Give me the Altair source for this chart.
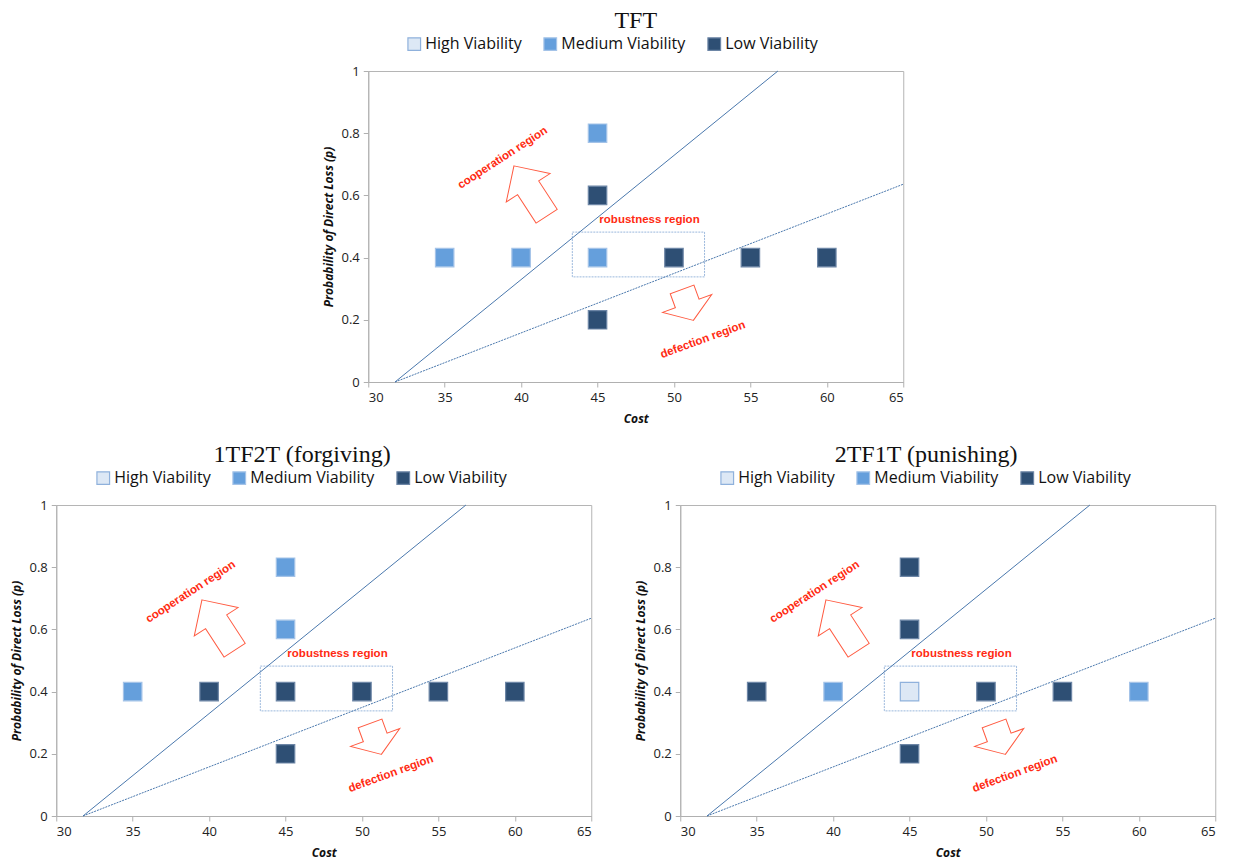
import altair as alt
import pandas as pd

# ---------------- data ----------------
cost_values = [35, 40, 45, 45, 45, 45, 50, 55, 60]
p_values = [0.4, 0.4, 0.4, 0.8, 0.6, 0.2, 0.4, 0.4, 0.4]
tft_viability = ["Medium Viability", "Medium Viability", "Medium Viability", "Medium Viability",
                 "Low Viability", "Low Viability", "Low Viability", "Low Viability", "Low Viability"]
forgiving_viability = ["Medium Viability", "Low Viability", "Low Viability", "Medium Viability",
                       "Medium Viability", "Low Viability", "Low Viability", "Low Viability", "Low Viability"]
punishing_viability = ["Low Viability", "Medium Viability", "High Viability", "Low Viability",
                       "Low Viability", "Low Viability", "Low Viability", "Low Viability", "Medium Viability"]

categories = ["High Viability", "Medium Viability", "Low Viability"]
fill_colors = ["#dde8f5", "#659fdc", "#2e4f74"]
stroke_colors = ["#8fb1dc", "#a4c3e8", "#6d86a6"]

coop_line_cost = [31.75, 56.8]
coop_line_p = [0.0, 1.0]
defect_line_cost = [31.75, 65.0]
defect_line_p = [0.0, 0.636]

box_cost = [43.35, 52.0]
box_p = [0.338, 0.482]

label_text = ["cooperation region", "robustness region", "defection region"]
label_cost = [38.8, 48.4, 51.9]
label_p = [0.72, 0.52, 0.135]
label_angle = [327, 0, 340]

arrow_cost = [40.6, 50.9]
arrow_p = [0.614, 0.248]

x_ticks = [30, 35, 40, 45, 50, 55, 60, 65]
y_ticks = [0, 0.2, 0.4, 0.6, 0.8, 1]

# ---------------- styling ----------------
W, H = 535, 311
RED = "#ff2a12"
ARROW = "#ff5a40"
LINE = "#4a78ad"
COOP_ARROW = "M0,-1L0.87,-0.13L0.42,-0.13L0.42,1L-0.42,1L-0.42,-0.13L-0.87,-0.13Z"
DEFECT_ARROW = "M0,-0.55L0.87,0.05L0.42,0.05L0.42,0.55L-0.42,0.55L-0.42,0.05L-0.87,0.05Z"

xscale = alt.Scale(domain=[30, 65], nice=False, zero=False)
yscale = alt.Scale(domain=[0, 1], nice=False)
xaxis = alt.Axis(values=x_ticks, title="Cost")
yaxis = alt.Axis(values=y_ticks, format="~g", title="Probability of Direct Loss (p)")


def panel(title, viability, legend_x, frame):
    pts = pd.DataFrame({"cost": cost_values, "p": p_values, "viability": viability})
    coop = pd.DataFrame({"cost": coop_line_cost, "p": coop_line_p})
    defect = pd.DataFrame({"cost": defect_line_cost, "p": defect_line_p})
    box = pd.DataFrame({"c1": [box_cost[0]], "c2": [box_cost[1]], "p1": [box_p[0]], "p2": [box_p[1]]})
    labels = pd.DataFrame({"cost": label_cost, "p": label_p, "text": label_text, "angle": label_angle})
    a1 = pd.DataFrame({"cost": [arrow_cost[0]], "p": [arrow_p[0]]})
    a2 = pd.DataFrame({"cost": [arrow_cost[1]], "p": [arrow_p[1]]})

    box_l = alt.Chart(box).mark_rect(fill="white", fillOpacity=0, stroke="#9bb8dc",
                                     strokeWidth=1, strokeDash=[2, 1]).encode(
        x=alt.X("c1:Q", scale=xscale, axis=xaxis), x2="c2:Q",
        y=alt.Y("p1:Q", scale=yscale, axis=yaxis), y2="p2:Q")

    coop_l = alt.Chart(coop).mark_line(color=LINE, strokeWidth=1).encode(
        x=alt.X("cost:Q", scale=xscale, axis=xaxis), y=alt.Y("p:Q", scale=yscale, axis=yaxis))
    defect_l = alt.Chart(defect).mark_line(color=LINE, strokeWidth=1, strokeDash=[2, 1]).encode(
        x=alt.X("cost:Q", scale=xscale, axis=xaxis), y=alt.Y("p:Q", scale=yscale, axis=yaxis))

    legend = alt.Legend(title=None, orient="none", direction="horizontal",
                        legendX=legend_x, legendY=-35, symbolType="square", symbolSize=160,
                        symbolStrokeWidth=1.2, labelFont="Open Sans", labelFontSize=16,
                        labelColor="#111", columnPadding=19, labelOffset=3)
    sq = alt.Chart(pts).mark_square(size=340, opacity=1, strokeWidth=1.2, filled=True).encode(
        x=alt.X("cost:Q", scale=xscale, axis=xaxis),
        y=alt.Y("p:Q", scale=yscale, axis=yaxis),
        fill=alt.Fill("viability:N", scale=alt.Scale(domain=categories, range=fill_colors), legend=legend),
        stroke=alt.Stroke("viability:N", scale=alt.Scale(domain=categories, range=stroke_colors), legend=legend),
    )

    txt = alt.Chart(labels).mark_text(font="Liberation Sans", fontWeight="bold", fontSize=11.5,
                                      color=RED).encode(
        x=alt.X("cost:Q", scale=xscale, axis=xaxis), y=alt.Y("p:Q", scale=yscale, axis=yaxis),
        text="text:N", angle=alt.Angle("angle:Q", scale=None))

    ar1 = alt.Chart(a1).mark_point(shape=COOP_ARROW, size=3600, angle=327, filled=False,
                                   stroke=ARROW, strokeWidth=1, opacity=1).encode(
        x=alt.X("cost:Q", scale=xscale, axis=xaxis), y=alt.Y("p:Q", scale=yscale, axis=yaxis))
    ar2 = alt.Chart(a2).mark_point(shape=DEFECT_ARROW, size=3600, angle=160, filled=False,
                                   stroke=ARROW, strokeWidth=1, opacity=1).encode(
        x=alt.X("cost:Q", scale=xscale, axis=xaxis), y=alt.Y("p:Q", scale=yscale, axis=yaxis))

    return alt.layer(box_l, coop_l, defect_l, sq, txt, ar1, ar2).properties(
        width=W, height=H,
        title=alt.TitleParams(title, font="Liberation Serif", fontSize=24, fontWeight="normal",
                              color="#111", offset=3, anchor="middle", frame=frame),
    )


top = panel("TFT", tft_viability, 38, "group")
bl = panel("1TF2T (forgiving)", forgiving_viability, 39, "bounds")
br = panel("2TF1T (punishing)", punishing_viability, 39, "bounds")

chart = alt.vconcat(
    top,
    alt.hconcat(bl, br, spacing=40).resolve_legend(fill="independent", stroke="independent"),
    spacing=17, center=True,
).resolve_legend(fill="independent", stroke="independent").properties(
    padding={"top": 0, "left": 2, "right": 0, "bottom": 0}
).configure_view(
    stroke="#b5b5b5", strokeWidth=1
).configure_axis(
    grid=False, domainColor="#b0b0b0", tickColor="#b0b0b0", tickSize=5,
    labelFont="Open Sans", labelFontSize=13, labelColor="#222", labelPadding=4,
    titleFont="Open Sans", titleFontSize=12, titleFontWeight="bold", titleFontStyle="italic",
    titleColor="#111",
).configure_axisX(titlePadding=9).configure_axisY(titlePadding=5)

chart.save("out.html", embed_options={"renderer": "svg", "actions": False})
